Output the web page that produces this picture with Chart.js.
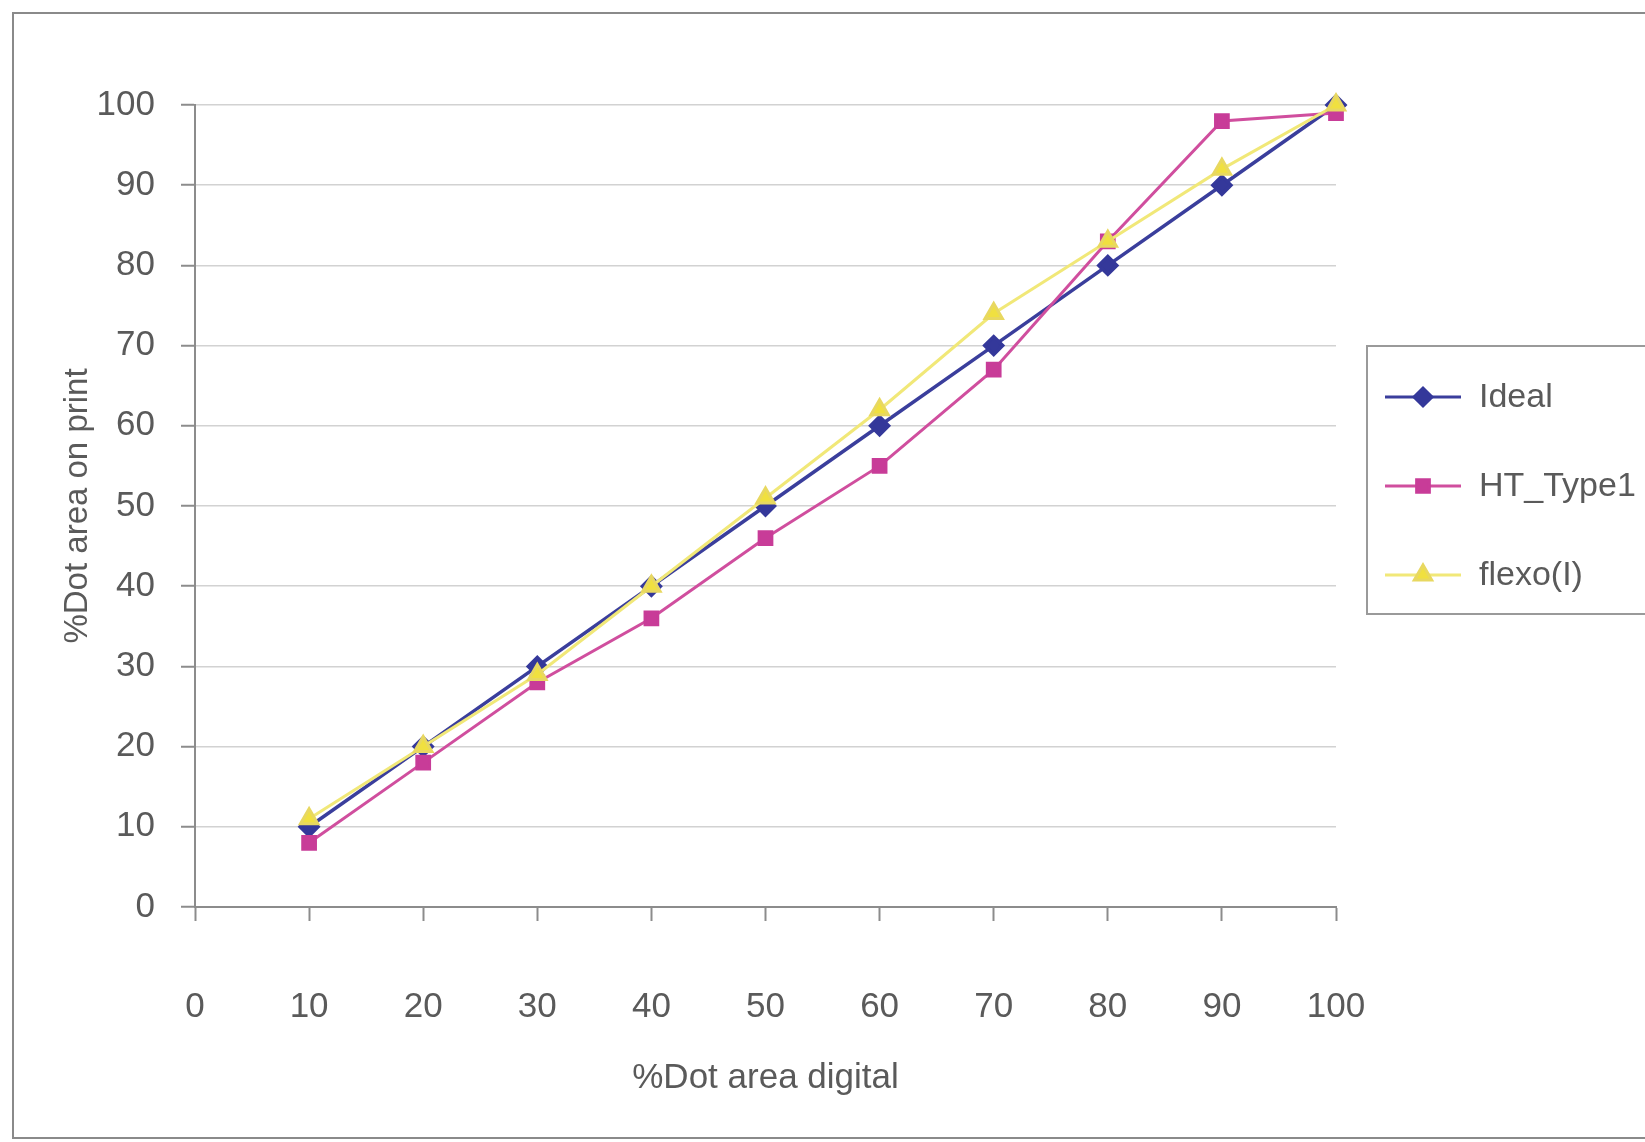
<!DOCTYPE html>
<html lang="en">
<head>
  <meta charset="UTF-8" />
  <title>%Dot area on print vs digital</title>
  <script src="https://cdn.jsdelivr.net/npm/chart.js"></script>
  <style>
    html, body { margin: 0; padding: 0; background: #fff; }
    .wrap { width: 1645px; height: 1142px; position: relative; }
  </style>
</head>
<body>
  <div class="wrap">
    <canvas id="dotChart"></canvas>
  </div>

  <script>
    // values
    const dotDigital = [10, 20, 30, 40, 50, 60, 70, 80, 90, 100];
    const ideal      = [10, 20, 30, 40, 50, 60, 70, 80, 90, 100];
    const htType1    = [8, 18, 28, 36, 46, 55, 67, 83, 98, 99];
    const flexo      = [11, 20, 29, 40, 51, 62, 74, 83, 92, 100];
    const seriesNames = ['Ideal', 'HT_Type1', 'flexo(I)'];

    const pts = arr => arr.map((v, i) => ({ x: dotDigital[i], y: v }));
    const FONT = '"Liberation Sans", Arial, sans-serif';
    const TEXT = '#5a5a5a';

    // page frame of the scan
    const paperFrame = {
      id: 'paperFrame',
      beforeDraw(chart) {
        const ctx = chart.ctx;
        ctx.save();
        ctx.fillStyle = '#fff';
        ctx.fillRect(0, 0, chart.width, chart.height);
        ctx.strokeStyle = '#8a8a8a';
        ctx.lineWidth = 2;
        ctx.strokeRect(13, 13, chart.width + 20, 1125);
        ctx.restore();
      }
    };

    // Excel style legend: line + marker inside a box
    const boxLegend = {
      id: 'boxLegend',
      afterDraw(chart) {
        const ctx = chart.ctx;
        ctx.save();
        ctx.strokeStyle = '#9a9a9a';
        ctx.lineWidth = 2;
        ctx.strokeRect(1367, 346, 320, 268);
        chart.data.datasets.forEach((ds, i) => {
          const y = 397 + i * 89;
          ctx.strokeStyle = ds.borderColor;
          ctx.lineWidth = 3;
          ctx.beginPath();
          ctx.moveTo(1385, y);
          ctx.lineTo(1461, y);
          ctx.stroke();
          ctx.fillStyle = ds.pointBackgroundColor;
          ctx.strokeStyle = ds.pointBorderColor;
          Chart.helpers.drawPoint(ctx, {
            pointStyle: ds.pointStyle, radius: ds.pointRadius, rotation: 0, borderWidth: 1
          }, 1423, y);
          ctx.fillStyle = TEXT;
          ctx.font = '34px ' + FONT;
          ctx.textBaseline = 'middle';
          ctx.textAlign = 'left';
          ctx.fillText(ds.label, 1479, y + 1);
        });
        ctx.restore();
      }
    };

    new Chart(document.getElementById('dotChart'), {
      type: 'line',
      data: {
        datasets: [{
          label: seriesNames[0],
          data: pts(ideal),
          borderColor: '#3a3e9c',
          pointBackgroundColor: '#34389a',
          pointBorderColor: '#34389a',
          pointStyle: 'rectRot',
          pointRadius: 9,
          borderWidth: 3.5,
          clip: false,
          order: 3
        }, {
          label: seriesNames[1],
          data: pts(htType1),
          borderColor: '#d04e9e',
          pointBackgroundColor: '#c83c98',
          pointBorderColor: '#c83c98',
          pointStyle: 'rect',
          pointRadius: 9,
          borderWidth: 3,
          clip: false,
          order: 2
        }, {
          label: seriesNames[2],
          data: pts(flexo),
          borderColor: '#f1e878',
          pointBackgroundColor: '#f0e040',
          pointBorderColor: '#e8d860',
          pointStyle: 'triangle',
          pointRadius: 10,
          borderWidth: 3,
          clip: false,
          order: 1
        }]
      },
      options: {
        responsive: true,
        maintainAspectRatio: false,
        animation: false,
        layout: { padding: { top: 105, right: 309, left: 0, bottom: 0 } },
        plugins: {
          legend: { display: false },
          tooltip: { enabled: false }
        },
        scales: {
          x: {
            type: 'linear',
            min: 0,
            max: 100,
            afterFit: s => { s.height = 235; },
            ticks: { stepSize: 10, padding: 65, color: TEXT, font: { family: FONT, size: 35 } },
            grid: { drawOnChartArea: false, tickLength: 14, tickColor: '#8c8c8c', tickWidth: 2 },
            border: { color: '#8c8c8c', width: 2 },
            title: {
              display: true, text: '%Dot area digital', color: TEXT,
              font: { family: FONT, size: 35 }, padding: { top: 0, bottom: 43 }
            }
          },
          y: {
            min: 0,
            max: 100,
            afterFit: s => { s.width = 195; },
            ticks: { stepSize: 10, padding: 26, color: TEXT, font: { family: FONT, size: 35 } },
            grid: { color: '#d2d2d2', lineWidth: 1.5, tickLength: 14, tickColor: '#8c8c8c', tickWidth: 2 },
            border: { color: '#8c8c8c', width: 2 },
            title: {
              display: true, text: '%Dot area on print', color: TEXT,
              font: { family: FONT, size: 33 }, padding: { top: 58, bottom: 0 }
            }
          }
        }
      },
      plugins: [paperFrame, boxLegend]
    });
  </script>
</body>
</html>
